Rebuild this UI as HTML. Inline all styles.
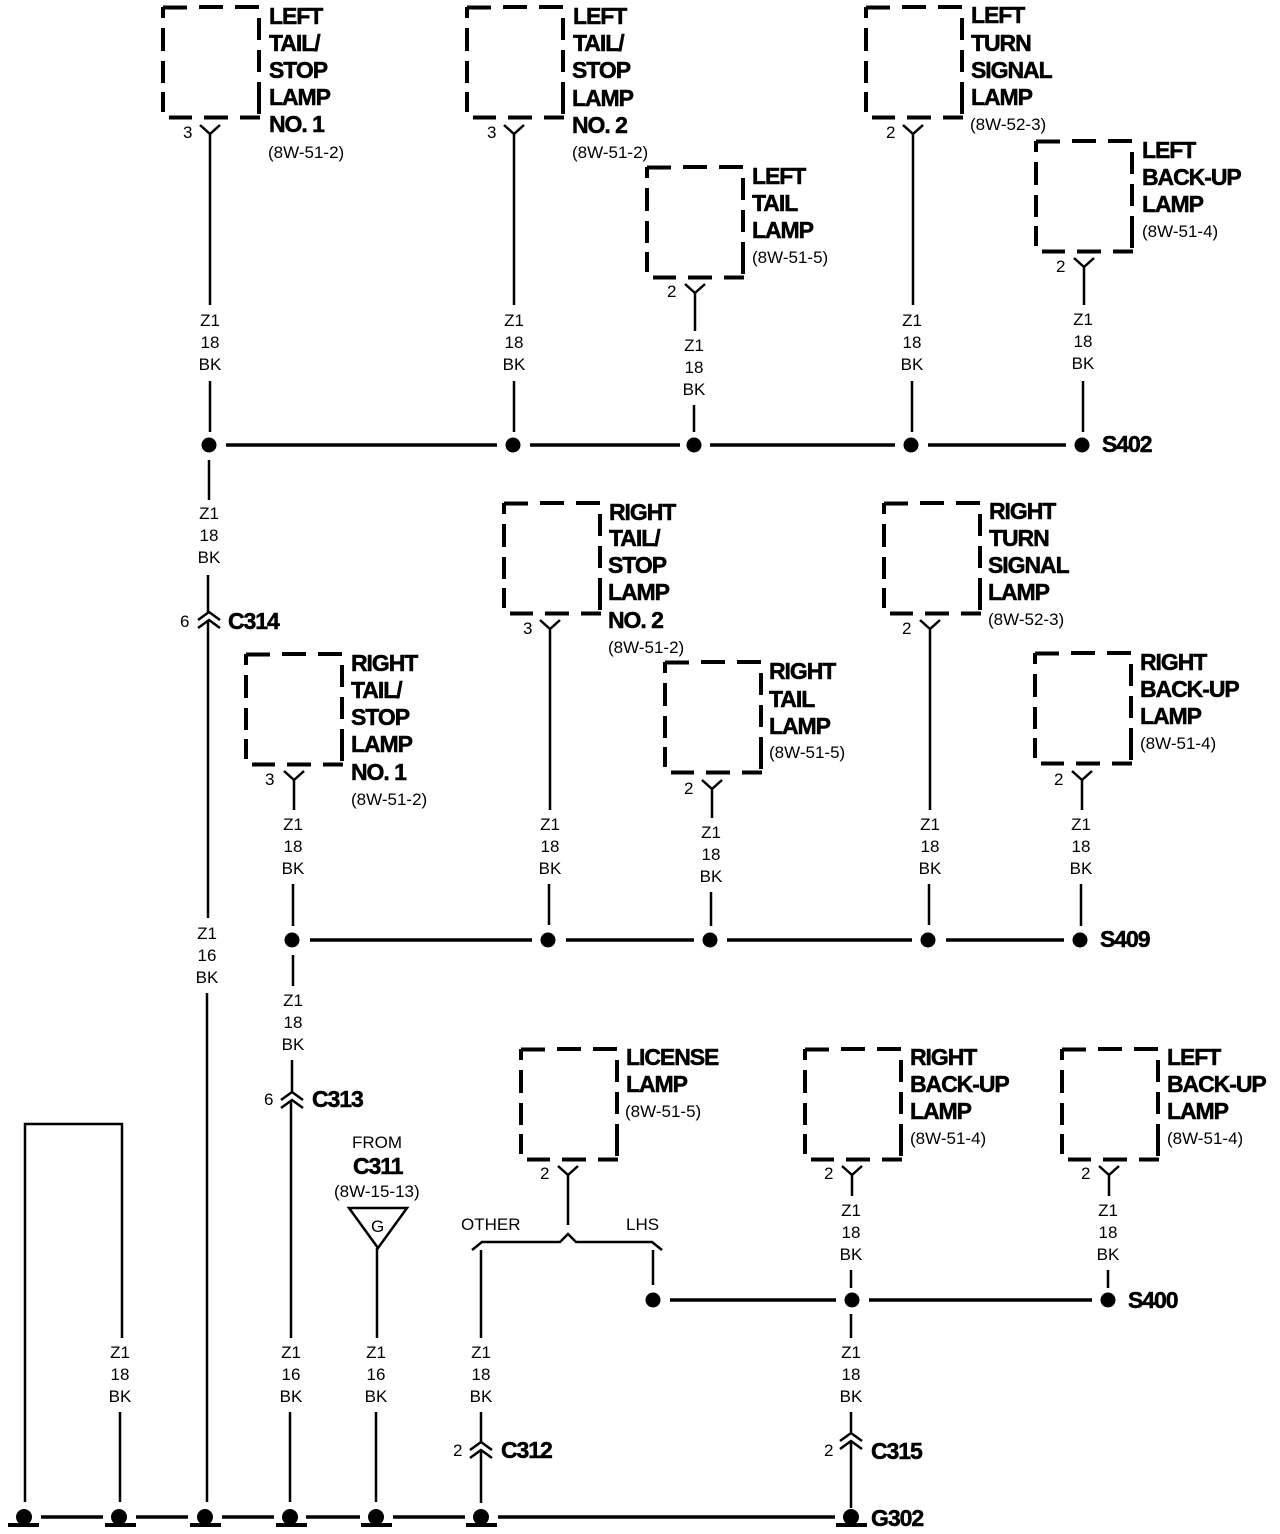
<!DOCTYPE html>
<html><head><meta charset="utf-8"><style>
html,body{margin:0;padding:0;background:#fff}
svg{display:block}
text{font-family:"Liberation Sans",Arial,sans-serif;fill:#000}
.b{font-weight:bold;font-size:23px;letter-spacing:-1.05px;stroke:#000;stroke-width:.5px}
.s{font-size:17px}
.w{font-size:17px;text-anchor:middle}
.box{fill:none;stroke:#000;stroke-width:4}
.l{fill:none;stroke:#000;stroke-width:2.5}
.h{fill:none;stroke:#000;stroke-width:3.5}
</style></head><body>
<svg width="1280" height="1534" viewBox="0 0 1280 1534" xmlns="http://www.w3.org/2000/svg">
<defs>
<path id="bx" class="box" d="M0 0.5H24M36 0H60M72 0H96M96 11V33M96 43V65M96 75V107M0 0V11M0 21V44M0 54V76M0 85V105M6 110.5H29M41 110.5H65M77 110.5H97"/>
</defs>
<!-- boxes -->
<use href="#bx" x="163" y="7"/>
<use href="#bx" x="467" y="7"/>
<use href="#bx" x="866" y="7"/>
<use href="#bx" x="647" y="167"/>
<use href="#bx" x="1036" y="141"/>
<use href="#bx" x="504" y="503"/>
<use href="#bx" x="884" y="503"/>
<use href="#bx" x="246" y="654"/>
<use href="#bx" x="665" y="662"/>
<use href="#bx" x="1035" y="653"/>
<use href="#bx" x="521" y="1049"/>
<use href="#bx" x="805" y="1049"/>
<use href="#bx" x="1062" y="1049"/>

<!-- Y connectors and wires -->
<path class="l" d="M200 125L210 134L220 125M210 134V305M210 381V432"/>
<path class="l" d="M504 125L514 134L524 125M514 134V305M514 381V432"/>
<path class="l" d="M903 125L913 134L923 125M913 134V305M912 381V432"/>
<path class="l" d="M685 284L695 293L705 284M695 293V331M694 405V432"/>
<path class="l" d="M1074 258L1084 267L1094 258M1084 267V305M1083 381V432"/>
<path class="l" d="M540 620L550 629L560 620M550 629V810M549 884V925"/>
<path class="l" d="M920 620L930 629L940 620M930 629V810M929 884V925"/>
<path class="l" d="M284 771L294 780L304 771M294 780V810M293 884V926"/>
<path class="l" d="M702 780L712 789L722 780M712 789V818M711 892V926"/>
<path class="l" d="M1072 771L1082 780L1092 771M1082 780V810M1081 884V926"/>
<path class="l" d="M558 1166L568 1175L578 1166M568 1175V1225"/>
<path class="l" d="M842 1166L852 1175L862 1166M852 1175V1196M851 1270V1288M851 1314V1338M851 1412V1432"/>
<path class="l" d="M1099 1166L1109 1175L1119 1166M1109 1175V1196M1108 1270V1288"/>
<!-- main verticals -->
<path class="l" d="M209 460V500M208 575V613M208 620V918M207 993V1502"/>
<path class="l" d="M293 955V986M292 1060V1093M291 1100V1338M290 1412V1502"/>
<!-- loop -->
<path class="l" d="M25 1502V1124H122V1338M120 1412V1502"/>
<!-- G connector -->
<path class="h" d="M349 1208H407L378 1248Z" style="stroke-width:2.5"/>
<path class="l" d="M377 1248V1338M376 1412V1502"/>
<!-- bracket -->
<path class="l" d="M472 1250L482 1242H560L568 1234L576 1242H652L662 1250"/>
<path class="l" d="M481 1250V1338M481 1412V1442M481 1450V1503"/>
<path class="l" d="M653 1250V1285"/>

<!-- buses -->
<path class="h" d="M226 445H497M530 445H680M710 445H895M928 445H1066"/>
<path class="h" d="M310 940H532M566 940H694M727 940H912M946 940H1064"/>
<path class="h" d="M670 1300H836M869 1300H1092"/>
<path class="h" d="M41 1517H103M136 1517H188M222 1517H274M306 1517H360M393 1517H465M498 1517H835"/>

<!-- dots -->
<g fill="#000">
<circle cx="209" cy="445" r="7.5"/><circle cx="513" cy="445" r="7.5"/><circle cx="694" cy="445" r="7.5"/><circle cx="911" cy="445" r="7.5"/><circle cx="1082" cy="445" r="7.5"/>
<circle cx="292" cy="940" r="7.5"/><circle cx="548" cy="940" r="7.5"/><circle cx="710" cy="940" r="7.5"/><circle cx="928" cy="940" r="7.5"/><circle cx="1080" cy="940" r="7.5"/>
<circle cx="653" cy="1300" r="7.5"/><circle cx="852" cy="1300" r="7.5"/><circle cx="1108" cy="1300" r="7.5"/>
<circle cx="24" cy="1517" r="8"/><rect x="8" y="1523" width="31" height="4"/>
<circle cx="119" cy="1517" r="8"/><rect x="105" y="1523" width="31" height="4"/>
<circle cx="205" cy="1517" r="8"/><rect x="190" y="1523" width="31" height="4"/>
<circle cx="290" cy="1517" r="8"/><rect x="276" y="1523" width="31" height="4"/>
<circle cx="376" cy="1517" r="8"/><rect x="361" y="1523" width="31" height="4"/>
<circle cx="481" cy="1517" r="8"/><rect x="466" y="1523" width="31" height="4"/>
<circle cx="851" cy="1517" r="8"/><rect x="836" y="1523" width="31" height="4"/>
</g>

<!-- double chevrons -->
<path class="l" d="M198 620L209 612L220 620M198 628L209 620L220 628"/>
<path class="l" d="M281 1100L292 1092L303 1100M281 1108L292 1100L303 1108"/>
<path class="l" d="M470 1450L481 1442L492 1450M470 1458L481 1450L492 1458"/>
<path class="l" d="M840 1441L851 1433L862 1441M840 1449L851 1441L862 1449M851 1441V1508"/>

<!-- bold labels -->
<g>
<text class="b" x="269" y="24">LEFT</text><text class="b" x="269" y="51">TAIL/</text><text class="b" x="269" y="78">STOP</text><text class="b" x="269" y="105">LAMP</text><text class="b" x="269" y="132">NO. 1</text>
<text class="b" x="573" y="24">LEFT</text><text class="b" x="573" y="51">TAIL/</text><text class="b" x="572" y="78">STOP</text><text class="b" x="572" y="106">LAMP</text><text class="b" x="572" y="133">NO. 2</text>
<text class="b" x="971" y="23">LEFT</text><text class="b" x="971" y="51">TURN</text><text class="b" x="971" y="78">SIGNAL</text><text class="b" x="971" y="105">LAMP</text>
<text class="b" x="752" y="184">LEFT</text><text class="b" x="752" y="211">TAIL</text><text class="b" x="752" y="238">LAMP</text>
<text class="b" x="1142" y="158">LEFT</text><text class="b" x="1142" y="185">BACK-UP</text><text class="b" x="1142" y="212">LAMP</text>
<text class="b" x="609" y="520">RIGHT</text><text class="b" x="609" y="546">TAIL/</text><text class="b" x="608" y="573">STOP</text><text class="b" x="608" y="600">LAMP</text><text class="b" x="608" y="628">NO. 2</text>
<text class="b" x="989" y="519">RIGHT</text><text class="b" x="989" y="546">TURN</text><text class="b" x="988" y="573">SIGNAL</text><text class="b" x="988" y="600">LAMP</text>
<text class="b" x="351" y="671">RIGHT</text><text class="b" x="351" y="698">TAIL/</text><text class="b" x="351" y="725">STOP</text><text class="b" x="351" y="752">LAMP</text><text class="b" x="351" y="780">NO. 1</text>
<text class="b" x="769" y="679">RIGHT</text><text class="b" x="769" y="707">TAIL</text><text class="b" x="769" y="734">LAMP</text>
<text class="b" x="1140" y="670">RIGHT</text><text class="b" x="1140" y="697">BACK-UP</text><text class="b" x="1140" y="724">LAMP</text>
<text class="b" x="626" y="1065">LICENSE</text><text class="b" x="626" y="1092">LAMP</text>
<text class="b" x="910" y="1065">RIGHT</text><text class="b" x="910" y="1092">BACK-UP</text><text class="b" x="910" y="1119">LAMP</text>
<text class="b" x="1167" y="1065">LEFT</text><text class="b" x="1167" y="1092">BACK-UP</text><text class="b" x="1167" y="1119">LAMP</text>
<text class="b" x="1102" y="452">S402</text>
<text class="b" x="1100" y="947">S409</text>
<text class="b" x="1128" y="1308">S400</text>
<text class="b" x="228" y="629">C314</text>
<text class="b" x="312" y="1107">C313</text>
<text class="b" x="501" y="1458">C312</text>
<text class="b" x="871" y="1459">C315</text>
<text class="b" x="871" y="1526">G302</text>
<text class="b" x="353" y="1174">C311</text>
</g>

<!-- references -->
<text class="s" x="268" y="158">(8W-51-2)</text>
<text class="s" x="572" y="158">(8W-51-2)</text>
<text class="s" x="970" y="130">(8W-52-3)</text>
<text class="s" x="752" y="263">(8W-51-5)</text>
<text class="s" x="1142" y="237">(8W-51-4)</text>
<text class="s" x="608" y="653">(8W-51-2)</text>
<text class="s" x="988" y="625">(8W-52-3)</text>
<text class="s" x="351" y="805">(8W-51-2)</text>
<text class="s" x="769" y="758">(8W-51-5)</text>
<text class="s" x="1140" y="749">(8W-51-4)</text>
<text class="s" x="625" y="1117">(8W-51-5)</text>
<text class="s" x="910" y="1144">(8W-51-4)</text>
<text class="s" x="1167" y="1144">(8W-51-4)</text>
<text class="s" x="334" y="1197">(8W-15-13)</text>
<text class="s" x="352" y="1148">FROM</text>
<text class="s" x="461" y="1230">OTHER</text>
<text class="s" x="626" y="1230">LHS</text>
<text class="s" x="371" y="1232">G</text>

<!-- pin numbers -->
<text class="s" x="183" y="138">3</text>
<text class="s" x="487" y="138">3</text>
<text class="s" x="886" y="138">2</text>
<text class="s" x="667" y="297">2</text>
<text class="s" x="1056" y="272">2</text>
<text class="s" x="523" y="634">3</text>
<text class="s" x="902" y="634">2</text>
<text class="s" x="265" y="785">3</text>
<text class="s" x="684" y="794">2</text>
<text class="s" x="1054" y="785">2</text>
<text class="s" x="540" y="1179">2</text>
<text class="s" x="824" y="1179">2</text>
<text class="s" x="1081" y="1179">2</text>
<text class="s" x="180" y="627">6</text>
<text class="s" x="264" y="1105">6</text>
<text class="s" x="453" y="1456">2</text>
<text class="s" x="824" y="1456">2</text>

<!-- wire labels -->
<g>
<text class="w" x="210" y="326">Z1</text><text class="w" x="210" y="348">18</text><text class="w" x="210" y="370">BK</text>
<text class="w" x="514" y="326">Z1</text><text class="w" x="514" y="348">18</text><text class="w" x="514" y="370">BK</text>
<text class="w" x="694" y="351">Z1</text><text class="w" x="694" y="373">18</text><text class="w" x="694" y="395">BK</text>
<text class="w" x="912" y="326">Z1</text><text class="w" x="912" y="348">18</text><text class="w" x="912" y="370">BK</text>
<text class="w" x="1083" y="325">Z1</text><text class="w" x="1083" y="347">18</text><text class="w" x="1083" y="369">BK</text>
<text class="w" x="209" y="519">Z1</text><text class="w" x="209" y="541">18</text><text class="w" x="209" y="563">BK</text>
<text class="w" x="207" y="939">Z1</text><text class="w" x="207" y="961">16</text><text class="w" x="207" y="983">BK</text>
<text class="w" x="293" y="830">Z1</text><text class="w" x="293" y="852">18</text><text class="w" x="293" y="874">BK</text>
<text class="w" x="550" y="830">Z1</text><text class="w" x="550" y="852">18</text><text class="w" x="550" y="874">BK</text>
<text class="w" x="711" y="838">Z1</text><text class="w" x="711" y="860">18</text><text class="w" x="711" y="882">BK</text>
<text class="w" x="930" y="830">Z1</text><text class="w" x="930" y="852">18</text><text class="w" x="930" y="874">BK</text>
<text class="w" x="1081" y="830">Z1</text><text class="w" x="1081" y="852">18</text><text class="w" x="1081" y="874">BK</text>
<text class="w" x="293" y="1006">Z1</text><text class="w" x="293" y="1028">18</text><text class="w" x="293" y="1050">BK</text>
<text class="w" x="851" y="1216">Z1</text><text class="w" x="851" y="1238">18</text><text class="w" x="851" y="1260">BK</text>
<text class="w" x="1108" y="1216">Z1</text><text class="w" x="1108" y="1238">18</text><text class="w" x="1108" y="1260">BK</text>
<text class="w" x="120" y="1358">Z1</text><text class="w" x="120" y="1380">18</text><text class="w" x="120" y="1402">BK</text>
<text class="w" x="291" y="1358">Z1</text><text class="w" x="291" y="1380">16</text><text class="w" x="291" y="1402">BK</text>
<text class="w" x="376" y="1358">Z1</text><text class="w" x="376" y="1380">16</text><text class="w" x="376" y="1402">BK</text>
<text class="w" x="481" y="1358">Z1</text><text class="w" x="481" y="1380">18</text><text class="w" x="481" y="1402">BK</text>
<text class="w" x="851" y="1358">Z1</text><text class="w" x="851" y="1380">18</text><text class="w" x="851" y="1402">BK</text>
</g>
</svg>
</body></html>
